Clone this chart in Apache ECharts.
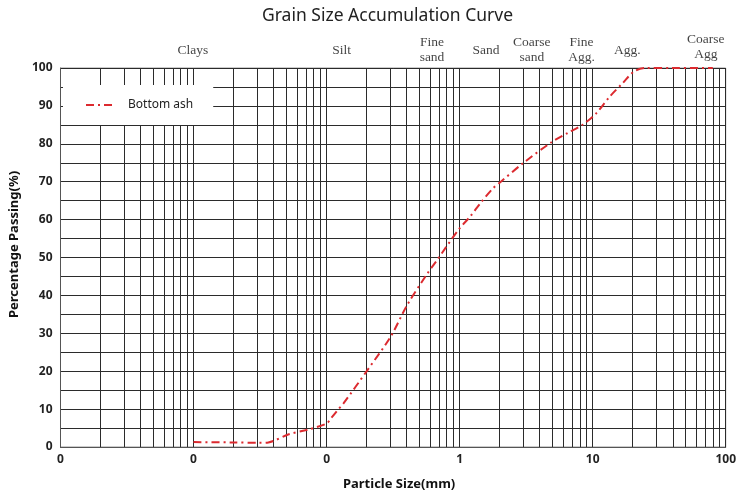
<!DOCTYPE html>
<html><head><meta charset="utf-8">
<script src="https://cdn.jsdelivr.net/npm/echarts@6/dist/echarts.min.js"></script>
<style>html,body{margin:0;padding:0;background:#fff}#c{width:739px;height:496px}</style>
</head><body><div id="c"></div>
<script>
// Particle size (mm) and percentage passing for bottom ash
const sizes   = [0.01, 0.02, 0.031, 0.0365, 0.0514, 0.0726, 0.1, 0.108, 0.1216, 0.134, 0.203, 0.303, 0.404, 0.568, 0.676, 0.98, 1.2, 1.43, 1.79, 2.04, 3.0, 4.9, 6.52, 8.44, 10.6, 13.4, 16.8, 20.5, 25, 40, 80];
const passing = [1.3, 1.2, 1.1, 1.2, 3.3, 4.6, 6.2, 7.6, 9.8, 11.5, 20.3, 29.1, 37.5, 45.6, 49.3, 57.3, 60.8, 64.3, 68.3, 70.0, 74.9, 80.4, 82.9, 85.1, 88.0, 92.4, 96.0, 99.1, 100, 100, 100];

// Zone labels along the top
const zoneNames = ['Clays', 'Silt', 'Fine\nsand', 'Sand', 'Coarse\nsand', 'Fine\nAgg.', 'Agg.', 'Coarse\nAgg'];
const zoneSizes = [0.0099, 0.13, 0.62, 1.58, 3.49, 8.24, 18.2, 70.8];

// Axis tick labels
const xTickValues = [0.001, 0.01, 0.1, 1, 10, 100];
const xTickLabels = ['0', '0', '0', '1', '10', '100'];
const yTicks = [0, 10, 20, 30, 40, 50, 60, 70, 80, 90, 100];

// Log-paper minor grid lines
const minorGrid = [0.002,0.003,0.004,0.005,0.006,0.007,0.008,0.009,
  0.02,0.03,0.04,0.05,0.06,0.07,0.08,0.09,
  0.2,0.3,0.4,0.5,0.6,0.7,0.8,0.9,
  2,3,4,5,6,7,8,9,
  20,30,40,50,60,70,80,90];

const gridColor = '#2b2b2b';
const chart = echarts.init(document.getElementById('c'));
chart.setOption({
  animation: false,
  backgroundColor: '#fff',
  title: {
    text: 'Grain Size Accumulation Curve',
    left: 257, top: 2,
    textStyle: { fontFamily: 'Noto Sans', fontSize: 17.5, fontWeight: 'normal', color: '#222' }
  },
  legend: {
    data: ['Bottom ash'],
    left: 63, top: 85,
    orient: 'vertical',
    backgroundColor: '#fff',
    padding: [14, 20, 14, 22],
    itemWidth: 27, itemHeight: 14,
    itemStyle: { color: 'transparent', borderWidth: 0, opacity: 0 },
    textStyle: { fontFamily: 'Noto Sans', fontSize: 12, color: '#222', padding: [0, 0, 0, 10] },
    z: 10
  },
  grid: {
    left: 58, right: 12, top: 68, bottom: 49,
    show: true, borderColor: '#999', borderWidth: 1
  },
  xAxis: {
    type: 'log', logBase: 10, min: 0.001, max: 100,
    name: 'Particle Size(mm)', nameLocation: 'middle', nameGap: 31,
    nameTextStyle: { fontFamily: 'Noto Sans', fontSize: 13, fontWeight: 'bold', color: '#111', padding: [0, 0, 0, 12] },
    axisLine: { show: true, lineStyle: { color: '#555' } },
    axisTick: { show: false },
    axisLabel: {
      margin: 7, fontFamily: 'Noto Sans', fontSize: 12, fontWeight: 'bold', color: '#222',
      formatter: function (v) {
        for (let i = 0; i < xTickValues.length; i++) {
          if (Math.abs(Math.log10(v) - Math.log10(xTickValues[i])) < 1e-6) return xTickLabels[i];
        }
        return '';
      }
    },
    splitLine: { show: true, lineStyle: { color: gridColor, width: 1 } }
  },
  yAxis: {
    type: 'value', min: 0, max: 100, interval: 10,
    name: 'Percentage Passing(%)', nameLocation: 'middle', nameGap: 36,
    nameTextStyle: { fontFamily: 'Noto Sans', fontSize: 13, fontWeight: 'bold', color: '#111', padding: [0, 0, 0, 26] },
    axisLine: { show: true, lineStyle: { color: '#555' } },
    axisTick: { show: false },
    axisLabel: {
      margin: 8, fontFamily: 'Noto Sans', fontSize: 12, fontWeight: 'bold', color: '#222',
      formatter: function (v) { return yTicks.indexOf(v) >= 0 ? String(v) : ''; }
    },
    splitLine: { show: true, lineStyle: { color: gridColor, width: 1 } },
    minorTick: { show: false, splitNumber: 2 },
    minorSplitLine: { show: true, lineStyle: { color: gridColor, width: 1 } }
  },
  series: [
    {
      name: 'zones',
      type: 'scatter',
      symbolSize: 0,
      clip: false,
      silent: true,
      data: zoneNames.map(function (n, i) {
        return {
          value: [zoneSizes[i], 100],
          label: {
            show: true, position: 'inside', formatter: n,
            offset: [0, n === 'Coarse\nAgg' ? -21 : -18],
            fontFamily: 'Liberation Serif', fontSize: 13.5, lineHeight: 15.5, color: '#111'
          }
        };
      }),
      markLine: {
        silent: true,
        precision: 10,
        symbol: ['none', 'none'],
        label: { show: false },
        emphasis: { disabled: true },
        lineStyle: { type: 'solid', color: gridColor, width: 1 },
        data: minorGrid.map(function (v) { return { xAxis: v }; })
      }
    },
    {
      name: 'Bottom ash',
      type: 'line',
      data: sizes.map(function (s, i) { return [s, passing[i]]; }),
      symbol: 'none',
      smooth: 0.3,
      z: 5,
      lineStyle: { color: '#dc2a2f', width: 2, type: [8, 4, 2, 4] },
      itemStyle: { color: '#dc2a2f' }
    }
  ]
});
</script>
</body></html>
